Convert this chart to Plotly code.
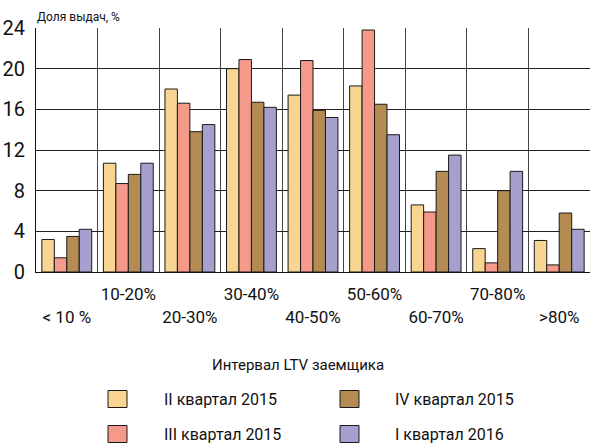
import plotly.graph_objects as go

# LTV intervals (x categories)
categories = ['< 10 %', '10-20%', '20-30%', '30-40%', '40-50%',
              '50-60%', '60-70%', '70-80%', '>80%']

# share of issued loans, %
q2_2015 = [3.2, 10.7, 18.0, 20.0, 17.4, 18.3, 6.6, 2.3, 3.1]
q3_2015 = [1.4, 8.7, 16.6, 20.9, 20.8, 23.8, 5.9, 0.9, 0.7]
q4_2015 = [3.5, 9.6, 13.8, 16.7, 15.9, 16.5, 9.9, 8.0, 5.8]
q1_2016 = [4.2, 10.7, 14.5, 16.2, 15.2, 13.5, 11.5, 9.9, 4.2]

series_names = ['II квартал 2015', 'III квартал 2015', 'IV квартал 2015', 'I квартал 2016']
series_values = [q2_2015, q3_2015, q4_2015, q1_2016]
colors = ['#F8D591', '#F5998A', '#B48B52', '#A6A0CF']

y_ticks = [0, 4, 8, 12, 16, 20, 24]

FONT = 'Roboto, Liberation Sans, sans-serif'
W, H = 590, 445
L, R, T, B = 36, 0, 28, 173


def px_x(px):
    return (px - L) / (W - L - R)


def px_y(py):
    return (H - B - py) / (H - T - B)


# staggered tick labels: even ones pushed to a second line
def _esc(s):
    return s.replace('<', '&lt;').replace('>', '&gt;')


tick_text = []
for i, c in enumerate(categories):
    if i % 2 == 0:
        tick_text.append(' <br>' + _esc(c))
    else:
        tick_text.append(_esc(c) + '<br> ')

fig = go.Figure()
for name, vals, col in zip(series_names, series_values, colors):
    fig.add_trace(go.Bar(
        x=categories, y=vals, name=name,
        marker=dict(color=col, line=dict(color='#1a1a1a', width=1)),
        showlegend=False,
    ))

fig.update_layout(
    width=W, height=H,
    margin=dict(l=L, r=R, t=T, b=B, pad=0),
    plot_bgcolor='white', paper_bgcolor='white',
    barmode='group', bargap=0.19, bargroupgap=0,
    font=dict(family=FONT, color='#111'),
)

fig.update_xaxes(
    tickmode='array', tickvals=categories, ticktext=tick_text,
    tickson='boundaries', ticks='', showgrid=True, gridcolor='#444', gridwidth=1,
    showline=True, linecolor='#111', linewidth=1,
    tickfont=dict(size=17, family=FONT), tickangle=0,
    ticklabelstandoff=7, automargin=False,
)
fig.update_yaxes(
    range=[0, 24], tickvals=y_ticks, ticks='',
    showgrid=True, gridcolor='#222', gridwidth=1,
    showline=True, linecolor='#111', linewidth=1,
    tickfont=dict(size=20, family=FONT),
    ticklabelstandoff=6, zeroline=False, automargin=False,
)

annotations = [
    dict(text='Доля выдач, %', x=px_x(35), y=px_y(17), xref='paper', yref='paper',
         xanchor='left', yanchor='middle', showarrow=False, font=dict(size=12, family=FONT)),
    dict(text='Интервал LTV заемщика', x=px_x(298), y=px_y(365), xref='paper', yref='paper',
         xanchor='center', yanchor='middle', showarrow=False, font=dict(size=15, family=FONT)),
]

# legend in a 2x2 grid (column-wise order)
shapes = []
legend_pos = [(108, 162, 399), (108, 162, 434), (340, 393, 399), (340, 393, 434)]
for (sx, tx, cy), name, col in zip(legend_pos, series_names, colors):
    shapes.append(dict(type='rect', xref='paper', yref='paper',
                       x0=px_x(sx), x1=px_x(sx + 19), y0=px_y(cy - 8.5), y1=px_y(cy + 8.5),
                       fillcolor=col, line=dict(color='#1a1a1a', width=1)))
    annotations.append(dict(text=name, x=px_x(tx), y=px_y(cy), xref='paper', yref='paper',
                            xanchor='left', yanchor='middle', showarrow=False,
                            font=dict(size=16, family=FONT)))

fig.update_layout(annotations=annotations, shapes=shapes)

# drop the default page margin so the chart sits at the window's corner
fig.write_html('out.html', config={'displayModeBar': False},
               post_script="document.body.style.margin='0';")
